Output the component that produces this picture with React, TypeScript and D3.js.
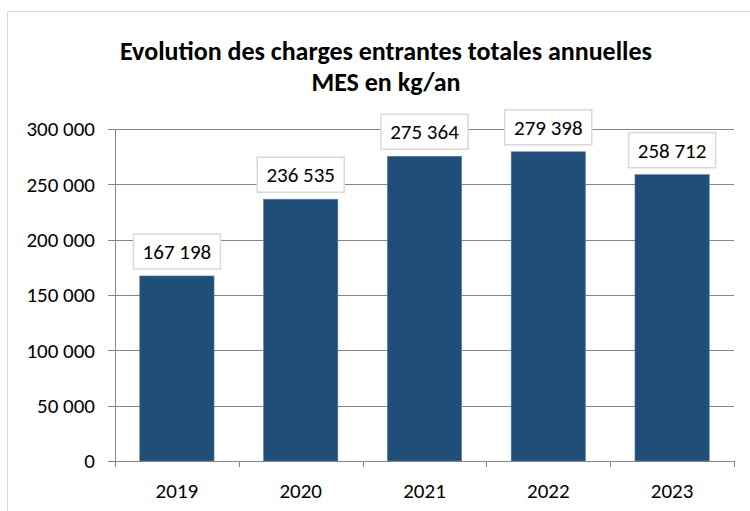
import React from 'react';
import * as d3 from 'd3';

const years = ['2019', '2020', '2021', '2022', '2023'];
const charges = [167198, 236535, 275364, 279398, 258712];
const yTicks = [0, 50000, 100000, 150000, 200000, 250000, 300000];
const titleLines = ['Evolution des charges entrantes totales annuelles', 'MES en kg/an'];

const W = 750;
const H = 511;
const margin = { top: 129, right: 16, bottom: 50, left: 115 };
const FONT = 'Carlito, Lato, "Open Sans", sans-serif';

const fmt = (v: number) => d3.format(',')(v).replace(/,/g, ' ');

const App = () => {
  const x = d3.scaleBand()
    .domain(years)
    .range([margin.left, W - margin.right])
    .paddingInner(0.4)
    .paddingOuter(0.2);
  const y = d3.scaleLinear()
    .domain([0, 300000])
    .range([H - margin.bottom, margin.top]);

  const x0 = margin.left;
  const x1 = W - margin.right;
  const step = x.step();

  return (
    <svg width={W} height={H} style={{ position: 'absolute', left: 0, top: 0, background: '#fff' }}>
      {/* chart frame */}
      <line x1={7.5} y1={11.5} x2={W} y2={11.5} stroke="#d9d9d9" />
      <line x1={7.5} y1={11.5} x2={7.5} y2={H} stroke="#d9d9d9" />

      {titleLines.map((t, i) => (
        <text key={t} x={386} y={60 + i * 31} textAnchor="middle"
          fontFamily={FONT} fontWeight="bold" fontSize={26} fill="#000">{t}</text>
      ))}

      {/* gridlines + y ticks */}
      {yTicks.map(t => (
        <g key={t}>
          <line x1={x0 - 7} x2={x1} y1={Math.round(y(t)) + 0.5} y2={Math.round(y(t)) + 0.5}
            stroke="#868686" strokeWidth={1} />
          <text x={95} y={y(t)} dy="0.35em" textAnchor="end" fontFamily={FONT} fontSize={21} fill="#000">
            {fmt(t)}
          </text>
        </g>
      ))}
      <line x1={x0 + 0.5} x2={x0 + 0.5} y1={y(300000)} y2={y(0) + 6} stroke="#868686" />
      {years.map((d, i) => (
        <line key={d} x1={Math.round(x0 + step * (i + 1)) + 0.5} x2={Math.round(x0 + step * (i + 1)) + 0.5}
          y1={y(0)} y2={y(0) + 6} stroke="#868686" />
      ))}

      {/* bars */}
      {years.map((d, i) => (
        <rect key={d} x={x(d)} y={y(charges[i])} width={x.bandwidth()} height={y(0) - y(charges[i])}
          fill="#1f4e79" stroke="#5b7fa6" strokeWidth={0.6} />
      ))}

      {/* value labels */}
      {years.map((d, i) => {
        const cx = (x(d) as number) + x.bandwidth() / 2;
        const bw = 87;
        const bh = 35;
        const by = y(charges[i]) - 7 - bh;
        return (
          <g key={d}>
            <rect x={cx - bw / 2} y={by} width={bw} height={bh} fill="#fff" stroke="#d9d9d9" strokeWidth={1.5} />
            <text x={cx} y={by + bh / 2} dy="0.36em" textAnchor="middle" fontFamily={FONT} fontSize={21} fill="#000">
              {fmt(charges[i])}
            </text>
          </g>
        );
      })}

      {/* x labels */}
      {years.map(d => (
        <text key={d} x={(x(d) as number) + x.bandwidth() / 2} y={498} textAnchor="middle"
          fontFamily={FONT} fontSize={21} fill="#000">{d}</text>
      ))}
    </svg>
  );
};

export default App;
